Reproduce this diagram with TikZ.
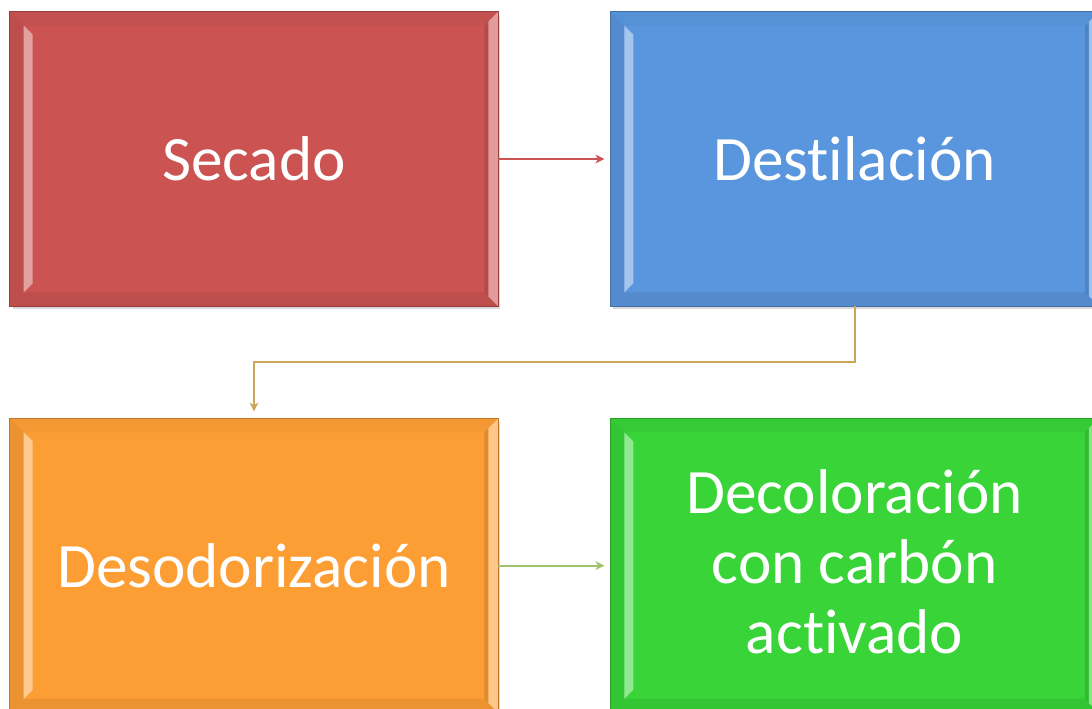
\documentclass[tikz,border=0pt]{standalone}
\usepackage{fontspec}
\setmainfont{Carlito}[Ligatures=NoCommon, RawFeature={-liga;-clig}]
\usetikzlibrary{positioning,calc,arrows.meta,shadows}

% --- Colores ---
\definecolor{rojo}{RGB}{203,84,82}
\definecolor{azul}{RGB}{90,150,222}
\definecolor{naranja}{RGB}{253,158,53}
\definecolor{verde}{RGB}{56,212,56}
\definecolor{flecharoja}{RGB}{203,84,82}
\definecolor{flechaoro}{RGB}{205,165,90}
\definecolor{flechaverde}{RGB}{160,195,105}

% --- Anchos del bisel ---
\def\bw{0.28cm}
\def\bl{0.18cm}
\def\br{0.2cm}

% --- Bisel de cada caja ---
\newcommand{\bisel}[2]{%
	% marco superior e inferior
	\fill[#2!96!black] (#1.north west) -- (#1.north east) -- ($(#1.north east)+(-\bw,-\bw)$) -- ($(#1.north west)+(\bw,-\bw)$) -- cycle;
	\fill[#2!93!black] (#1.south west) -- (#1.south east) -- ($(#1.south east)+(-\bw,\bw)$) -- ($(#1.south west)+(\bw,\bw)$) -- cycle;
	% marco izquierdo con brillo
	\fill[#2!93!black] (#1.north west) -- (#1.south west) -- ($(#1.south west)+(\bw,\bw)$) -- ($(#1.north west)+(\bw,-\bw)$) -- cycle;
	\fill[#2!55!white] ($(#1.north west)+(\bw,-\bw)$) -- ($(#1.north west)+(\bw+\bl,-\bw-\bl)$) -- ($(#1.south west)+(\bw+\bl,\bw+\bl)$) -- ($(#1.south west)+(\bw,\bw)$) -- cycle;
	% marco derecho con brillo
	\fill[#2!88!black] (#1.north east) -- (#1.south east) -- ($(#1.south east)+(-\bw,\bw)$) -- ($(#1.north east)+(-\bw,-\bw)$) -- cycle;
	\fill[#2!58!white] (#1.north east) -- (#1.south east) -- ($(#1.south east)+(-\br,\br)$) -- ($(#1.north east)+(-\br,-\br)$) -- cycle;
	\draw[#2!75!black, line width=0.5pt] (#1.north west) rectangle (#1.south east);
}

\tikzset{
	paso/.style={rectangle, fill=#1, minimum width=9.76cm, minimum height=5.88cm,
		inner sep=0pt, drop shadow={opacity=0.3, shadow xshift=0.05cm, shadow yshift=-0.07cm}},
	rotulo/.style={text=white, align=center, font=\fontsize{36}{40}\selectfont},
	flecha/.style={-{Stealth[length=5pt,width=5pt,inset=1.5pt]}, line width=1.1pt, draw=#1},
}

\begin{document}
\begin{tikzpicture}[x=0.02cm, y=-0.02cm, node distance=2.24cm]
	% --- Marco de la imagen ---
	\useasboundingbox (0,0) rectangle (1092,709);
	\clip (0,0) rectangle (1092,709);
	
	% --- Cajas ---
	\node[paso=rojo] (secado) at (254,159) {};
	\node[paso=azul, right=of secado] (destilacion) {};
	\node[paso=naranja, below=of secado] (desodorizacion) {};
	\node[paso=verde, right=of desodorizacion] (decoloracion) {};
	
	\bisel{secado}{rojo}
	\bisel{destilacion}{azul}
	\bisel{desodorizacion}{naranja}
	\bisel{decoloracion}{verde}
	
	% --- Textos ---
	\node[rotulo] (tsecado) at (secado) {Secado};
	\node[rotulo] (tdestilacion) at (destilacion) {Dest\kern0pt ilación};
	\node[rotulo] (tdesodorizacion) at (desodorizacion) {Desodorización};
	\node[rotulo] (tdecoloracion) at ($(decoloracion)+(0,-4)$) {Decoloración\\con carbón\\act\kern0pt ivado};
	
	% --- Flechas ---
	\draw[flecha=flecharoja, shorten >=0.12cm] (secado) -- (destilacion);
	\draw[flecha=flechaoro, shorten >=0.14cm] (destilacion.south) |- ($(destilacion.south)!0.5!(desodorizacion.north)$) -| (desodorizacion.north);
	\draw[flecha=flechaverde, shorten >=0.12cm] (desodorizacion) -- (decoloracion);
\end{tikzpicture}
\end{document}
